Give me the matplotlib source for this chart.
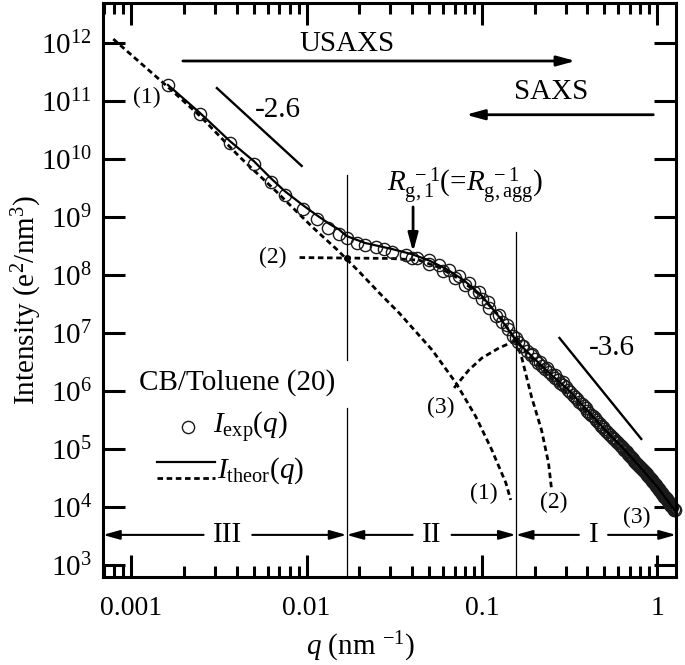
import numpy as np
import matplotlib
matplotlib.use('Agg')
import matplotlib.pyplot as plt
from matplotlib import rcParams
from matplotlib.ticker import FixedLocator, FixedFormatter, NullLocator

rcParams['font.family'] = 'Liberation Serif'
rcParams['mathtext.fontset'] = 'custom'
rcParams['mathtext.rm'] = 'Liberation Serif'
rcParams['mathtext.it'] = 'Liberation Serif:italic'
rcParams['mathtext.bf'] = 'Liberation Serif:bold'
SIZE = 21
rcParams['font.size'] = SIZE

# ---- data ----
q_usaxs = [0.00162, 0.00247, 0.00365, 0.0050, 0.00624, 0.0075, 0.0095, 0.0114,
           0.0133, 0.0154, 0.0171, 0.0193, 0.0216, 0.0250, 0.0277, 0.0308,
           0.0370, 0.0428, 0.0497, 0.057, 0.065, 0.074, 0.0843, 0.096, 0.109,
           0.125, 0.139, 0.156, 0.172, 0.192, 0.214, 0.236, 0.262, 0.292]
I_usaxs = [1.89e11, 6.0e10, 1.89e10, 8.2e9, 4.0e9, 2.4e9, 1.37e9, 9.3e8,
           6.5e8, 5.1e8, 4.35e8, 3.6e8, 3.3e8, 3.0e8, 2.8e8, 2.5e8,
           2.2e8, 1.96e8, 1.8e8, 1.49e8, 1.24e8, 9.5e7, 7.3e7, 5.1e7, 3.4e7,
           2.05e7, 1.36e7, 8.2e6, 6.0e6, 4.3e6, 3.2e6, 2.45e6, 1.9e6, 1.45e6]

q_saxs = [0.04, 0.05, 0.06, 0.07, 0.08, 0.09, 0.10, 0.11, 0.12, 0.13, 0.14,
          0.15, 0.16, 0.17, 0.18, 0.19, 0.20, 0.21, 0.22, 0.23, 0.24, 0.25,
          0.26, 0.27, 0.28, 0.29, 0.30, 0.31, 0.32, 0.33, 0.34, 0.35, 0.36,
          0.37, 0.38, 0.39, 0.40,
          0.42, 0.44, 0.46, 0.48, 0.50, 0.52, 0.54, 0.56, 0.58, 0.60, 0.62,
          0.64, 0.66, 0.68, 0.70, 0.72, 0.74, 0.76, 0.78, 0.80, 0.82, 0.84,
          0.86, 0.88, 0.90, 0.92, 0.94, 0.96, 0.98, 1.00, 1.02, 1.04, 1.06,
          1.08, 1.10, 1.12, 1.14, 1.16, 1.18, 1.20, 1.22, 1.24, 1.26]
I_saxs = [1.94e8, 1.52e8, 1.15e8, 8.8e7, 6.8e7, 5.0e7, 3.8e7, 2.7e7, 2.0e7,
          1.55e7, 1.17e7, 8.9e6, 7.0e6, 5.85e6, 4.89e6, 4.12e6, 3.52e6, 3.08e6,
          2.70e6, 2.38e6, 2.12e6, 1.89e6, 1.70e6, 1.54e6, 1.39e6, 1.27e6,
          1.15e6, 1.06e6, 9.6e5, 8.6e5, 7.9e5, 7.2e5, 6.5e5, 5.97e5, 5.45e5,
          5.0e5, 4.6e5,
          3.93e5, 3.37e5, 2.90e5, 2.53e5, 2.20e5, 1.95e5, 1.74e5, 1.55e5,
          1.40e5, 1.25e5, 1.14e5, 1.02e5, 9.2e4, 8.3e4, 7.6e4, 6.95e4, 6.3e4,
          5.8e4, 5.3e4, 4.9e4, 4.48e4, 4.14e4, 3.81e4, 3.52e4, 3.24e4, 2.99e4,
          2.78e4, 2.59e4, 2.41e4, 2.24e4, 2.07e4, 1.91e4, 1.76e4, 1.63e4,
          1.51e4, 1.41e4, 1.31e4, 1.22e4, 1.14e4, 1.06e4, 9.9e3, 9.3e3, 8.7e3]
# second, interleaved SAXS frame (dense high-q band)
q_saxs_b = [0.41, 0.43, 0.45, 0.47, 0.49, 0.51, 0.53, 0.55, 0.57, 0.59, 0.61,
            0.63, 0.65, 0.67, 0.69, 0.71, 0.73, 0.75, 0.77, 0.79, 0.81, 0.83,
            0.85, 0.87, 0.89, 0.91, 0.93, 0.95, 0.97, 0.99, 1.01, 1.03, 1.05,
            1.07, 1.09, 1.11, 1.13, 1.15, 1.17, 1.19, 1.21, 1.23, 1.25]
I_saxs_b = [4.25e5, 3.64e5, 3.13e5, 2.71e5, 2.36e5, 2.07e5, 1.84e5, 1.64e5,
            1.47e5, 1.32e5, 1.19e5, 1.08e5, 9.7e4, 8.7e4, 7.9e4, 7.27e4, 6.62e4,
            6.04e4, 5.54e4, 5.1e4, 4.69e4, 4.31e4, 3.97e4, 3.66e4, 3.38e4,
            3.11e4, 2.88e4, 2.68e4, 2.5e4, 2.32e4, 2.15e4, 1.99e4, 1.83e4,
            1.69e4, 1.57e4, 1.46e4, 1.36e4, 1.26e4, 1.18e4, 1.10e4, 1.02e4,
            9.6e3, 9.0e3]

q_theor = [0.00162, 0.00247, 0.00365, 0.0050, 0.00624, 0.0075, 0.0095, 0.0114,
           0.0135, 0.0154, 0.0169, 0.0216, 0.0308, 0.0398, 0.050, 0.063, 0.079,
           0.100, 0.126, 0.158, 0.200, 0.251, 0.316, 0.398, 0.501, 0.631, 0.794,
           1.00, 1.26]
I_theor = [1.89e11, 6.2e10, 2.04e10, 9.2e9, 4.7e9, 2.8e9, 1.61e9, 1.08e9,
           7.6e8, 6.0e8, 4.7e8, 3.56e8, 2.8e8, 2.29e8, 1.78e8, 1.26e8, 8.1e7,
           4.37e7, 1.86e7, 7.2e6, 3.55e6, 1.86e6, 1.0e6, 4.7e5, 2.19e5, 1.07e5,
           5.0e4, 2.24e4, 8.7e3]

# structural levels (1), (2), (3)
q_lev1 = [7.9e-4, 1.62e-3, 2.47e-3, 4.16e-3, 6.41e-3, 1.08e-2, 1.50e-2, 2.00e-2,
          2.60e-2, 3.38e-2, 5.20e-2, 7.12e-2, 9.24e-2, 0.114, 0.137, 0.146]
I_lev1 = [1.17e12, 1.74e11, 5.5e10, 1.08e10, 3.16e9, 6.7e8, 2.70e8, 1.13e8,
          4.9e7, 2.2e7, 5.1e6, 1.37e6, 3.6e5, 9.6e4, 2.6e4, 1.32e4]
q_lev2 = [9.12e-3, 1.69e-2, 3.0e-2, 4.39e-2, 5.7e-2, 7.4e-2, 9.6e-2, 0.125,
          0.156, 0.169, 0.192, 0.219, 0.240, 0.250]
I_lev2 = [2.0e8, 1.96e8, 1.93e8, 1.8e8, 1.35e8, 8.6e7, 4.7e7, 2.0e7,
          7.6e6, 3.7e6, 7.9e5, 2.1e5, 5.7e4, 1.96e4]
q_lev3 = [0.0694, 0.0843, 0.100, 0.125, 0.156, 0.211, 0.300, 0.462, 0.684,
          0.948, 1.25]
I_lev3 = [1.13e6, 2.3e6, 3.7e6, 5.5e6, 7.4e6, 2.7e6, 9.8e5, 2.7e5, 8.2e4,
          2.6e4, 8.7e3]

q_join = [0.0169, 0.156]
I_join = [1.96e8, 7.6e6]

# region boundaries
q_b1, q_b2 = 0.0169, 0.156

# guide slopes
slope1_q, slope1_I = [0.00308, 0.00938], [1.67e11, 7.6e9]
slope2_q, slope2_I = [0.277, 0.811], [8.2e6, 1.49e5]

yticks = [1e3, 1e4, 1e5, 1e6, 1e7, 1e8, 1e9, 1e10, 1e11, 1e12]
ytick_labels = [r'$10^{%d}$' % e for e in range(3, 13)]
xticks = [0.001, 0.01, 0.1, 1]
xtick_labels = ['0.001', '0.01', '0.1', '1']

XMIN, XMAX = 6.9e-4, 1.28
YMIN, YMAX = 6.2e2, 4.9e12

fig = plt.figure(figsize=(6.85, 6.65), dpi=100)
ax = fig.add_axes([103/685, 1-577/665, 573/685, 574/665])
ax.set_xscale('log')
ax.set_yscale('log')

dash = dict(color='k', lw=2.0, dashes=(2.0, 1.3))
ax.plot(q_lev1, I_lev1, **dash)
ax.plot(q_lev2, I_lev2, **dash)
ax.plot(q_lev3, I_lev3, **dash)
ax.plot(q_join, I_join, 'o', color='k', ms=4)

circ = dict(ls='none', marker='o', ms=8.8, mfc='none', mec='#1a1a1a', mew=1.0)
ax.plot(q_usaxs, I_usaxs, **circ)
ax.plot(q_saxs, I_saxs, clip_on=False, **circ)
ax.plot(q_saxs_b, I_saxs_b, **circ)
ax.plot(q_theor, I_theor, color='k', lw=1.6)

# region boundaries
ax.plot([q_b1, q_b1], [5.3e9, 3.4e6], color='k', lw=0.9)
ax.plot([q_b1, q_b1], [5.1e5, YMIN], color='k', lw=0.9)
ax.plot([q_b2, q_b2], [5.5e8, YMIN], color='k', lw=0.9)

# slopes
ax.plot(slope1_q, slope1_I, color='k', lw=1.7)
ax.plot(slope2_q, slope2_I, color='k', lw=1.7)
ax.text(0.00684, 7.0e10, '-2.6', ha='center', va='center')
ax.text(0.548, 5.5e6, '-3.6', ha='center', va='center')

# USAXS / SAXS ranges
big = dict(arrowstyle='-|>,head_length=0.55,head_width=0.15', color='k', lw=2.0,
           shrinkA=0, shrinkB=0, mutation_scale=20)
ax.annotate('', xy=(0.342, 4.9e11), xytext=(0.00197, 4.9e11), arrowprops=big)
ax.annotate('', xy=(0.081, 5.8e10), xytext=(0.95, 5.8e10), arrowprops=big)
ax.text(0.0171, 9.6e11, 'USAXS', ha='center', va='center')
ax.text(0.247, 1.43e11, 'SAXS', ha='center', va='center')

# Rg arrow
ax.annotate('', xy=(0.0405, 2.5e8), xytext=(0.0405, 1.49e9), arrowprops=big)
ax.text(0.0288, 3.4e9,
        r'$R_{\mathrm{g,1}}^{\ -1}$(=$R_{\mathrm{g,agg}}^{\ -1}$)',
        ha='left', va='center')

# level labels
for txt, x, y in [('(1)', 1.23e-3, 1.17e11), ('(2)', 6.4e-3, 2.0e8),
                  ('(3)', 0.0585, 5.1e5), ('(1)', 0.1026, 1.74e4),
                  ('(2)', 0.256, 1.22e4), ('(3)', 0.769, 6.7e3)]:
    ax.text(x, y, txt, ha='center', va='center', fontsize=17)

# region arrows I, II, III
y_reg = 3300
small = dict(arrowstyle='-|>,head_length=0.5,head_width=0.14', color='k', lw=1.5,
             shrinkA=5, shrinkB=0, mutation_scale=20)
for lab, x0, x1, xc in [('III', XMIN, q_b1, 0.00356), ('II', q_b1, q_b2, 0.052),
                        ('I', q_b2, XMAX, 0.433)]:
    ax.annotate(lab, xy=(x0, y_reg), xytext=(xc, y_reg), ha='center', va='center',
                arrowprops=small)
    ax.annotate(lab, xy=(x1, y_reg), xytext=(xc, y_reg), ha='center', va='center',
                color='none', arrowprops=small)

# legend drawn by hand
T = ax.transAxes
ax.text(0.234, 0.338, 'CB/Toluene (20)', transform=T, ha='center', va='center')
ax.plot([0.148], [0.261], transform=T, **circ)
ax.text(0.192, 0.261, r'$I_{\mathrm{exp}}(q)$', transform=T, ha='left', va='center')
ax.plot([0.094, 0.195], [0.200, 0.200], transform=T, color='k', lw=1.6)
ax.plot([0.094, 0.195], [0.172, 0.172], transform=T, **dash)
ax.text(0.199, 0.186, r'$I_{\mathrm{theor}}(q)$', transform=T, ha='left', va='center')

ax.set_xlim(XMIN, XMAX)
ax.set_ylim(YMIN, YMAX)
ax.yaxis.set_major_locator(FixedLocator(yticks))
ax.yaxis.set_major_formatter(FixedFormatter(ytick_labels))
ax.yaxis.set_minor_locator(NullLocator())
ax.xaxis.set_major_locator(FixedLocator(xticks))
ax.xaxis.set_major_formatter(FixedFormatter(xtick_labels))

for s in ax.spines.values():
    s.set_linewidth(2.2)
ax.tick_params(which='both', direction='in', top=True, right=True, width=2.2)
ax.tick_params(which='major', length=15.8)
ax.tick_params(which='minor', length=8)
ax.tick_params(axis='x', pad=14, labelsize=20)
ax.tick_params(axis='y', pad=8, labelsize=21)

ax.set_xlabel(r'$q$ (nm $^{-1}$)')
ax.set_ylabel(r'Intensity (e$^2$/nm$^3$)')
ax.xaxis.label.set_va('center')
ax.yaxis.label.set_va('center')
ax.xaxis.set_label_coords(0.449, -0.122)
ax.yaxis.set_label_coords(-0.133, 0.483)

fig.savefig('out.png', dpi=100)
